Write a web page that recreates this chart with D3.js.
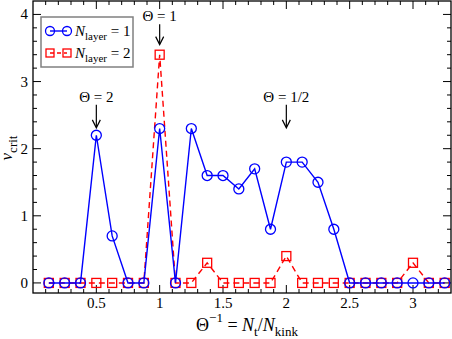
<!DOCTYPE html>
<html>
<head>
<meta charset="utf-8">
<script src="https://cdn.jsdelivr.net/npm/d3@7"></script>
<style>
  body { margin: 0; background: #fff; }
  svg { display: block; font-family: "Liberation Serif", "Times New Roman", serif; }
</style>
</head>
<body>
<svg width="452" height="339"></svg>
<script>
// x positions (Theta^-1)
var xs = [0.125, 0.25, 0.375, 0.5, 0.625, 0.75, 0.875, 1.0, 1.125, 1.25, 1.375, 1.5, 1.625,
          1.75, 1.875, 2.0, 2.125, 2.25, 2.375, 2.5, 2.625, 2.75, 2.875, 3.0, 3.125, 3.25];
// N_layer = 1
var layer1 = [0, 0, 0, 2.2, 0.7, 0, 0, 2.3, 0, 2.3, 1.6, 1.6, 1.4,
              1.7, 0.8, 1.8, 1.8, 1.5, 0.8, 0, 0, 0, 0, 0, 0, 0];
// N_layer = 2
var layer2 = [0, 0, 0, 0, 0, 0, 0, 3.4, 0, 0, 0.3, 0, 0,
              0, 0, 0.4, 0, 0, 0, 0, 0, 0, 0, 0.3, 0, 0];
var xTicks = [0.5, 1, 1.5, 2, 2.5, 3];
var yTicks = [0, 1, 2, 3, 4];
// annotations: x, label baseline and arrow tip in data units
var notes = [{x: 0.5, ty: 2.7, tip: 2.31, label: "Θ = 2"},
             {x: 1, ty: 3.9, tip: 3.55, label: "Θ = 1"},
             {x: 2, ty: 2.7, tip: 2.31, label: "Θ = 1/2"}];

var svg = d3.select("svg");
var pL = 33, pR = 451, pT = 1, pB = 293;

var x = d3.scaleLinear().domain([0, 3.3]).range([pL, pR]);
var y = d3.scaleLinear().domain([-0.15, 4.2]).range([pB, pT]);

// frame
svg.append("rect")
  .attr("x", pL).attr("y", pT)
  .attr("width", pR - pL).attr("height", pB - pT)
  .attr("fill", "none").attr("stroke", "#000").attr("stroke-width", 1.3);

// ticks, all pointing inward
var xMinor = d3.range(0.1, 3.3, 0.1).map(function(d) { return Math.round(d * 10) / 10; });
var yMinor = d3.range(0, 4.2, 0.2).map(function(d) { return Math.round(d * 10) / 10; });
var tg = svg.append("g").attr("stroke", "#000").attr("stroke-width", 1);
xMinor.forEach(function(v) {
  var big = xTicks.indexOf(v) >= 0;
  var len = big ? 8 : 4;
  tg.append("line").attr("x1", x(v)).attr("x2", x(v)).attr("y1", pB).attr("y2", pB - len);
  tg.append("line").attr("x1", x(v)).attr("x2", x(v)).attr("y1", pT).attr("y2", pT + len);
});
yMinor.forEach(function(v) {
  var big = yTicks.indexOf(v) >= 0;
  var len = big ? 8 : 4;
  tg.append("line").attr("x1", pL).attr("x2", pL + len).attr("y1", y(v)).attr("y2", y(v));
  tg.append("line").attr("x1", pR).attr("x2", pR - len).attr("y1", y(v)).attr("y2", y(v));
});

svg.selectAll(".xt").data(xTicks).enter().append("text")
  .attr("x", function(d) { return x(d); }).attr("y", 308)
  .attr("text-anchor", "middle").attr("font-size", 15)
  .text(function(d) { return d; });
svg.selectAll(".yt").data(yTicks).enter().append("text")
  .attr("x", 28).attr("y", function(d) { return y(d) + 5; })
  .attr("text-anchor", "end").attr("font-size", 15)
  .text(function(d) { return d; });

// axis labels
var xl = svg.append("text").attr("x", 247).attr("y", 331).attr("text-anchor", "middle").attr("font-size", 18);
xl.append("tspan").text("Θ");
xl.append("tspan").attr("dy", -9).attr("font-size", 13).text("−1");
xl.append("tspan").attr("dy", 9).text(" = ");
xl.append("tspan").attr("font-style", "italic").text("N");
xl.append("tspan").attr("dy", 5).attr("font-size", 13).text("t");
xl.append("tspan").attr("dy", -5).text("/");
xl.append("tspan").attr("font-style", "italic").text("N");
xl.append("tspan").attr("dy", 5).attr("font-size", 13).text("kink");

var yl = svg.append("text").attr("transform", "translate(12,148) rotate(-90)")
  .attr("text-anchor", "middle").attr("font-size", 17);
yl.append("tspan").attr("font-style", "italic").text("ν");
yl.append("tspan").attr("dy", 5).attr("font-size", 13).text("crit");

// data
var d1 = xs.map(function(v, i) { return [v, layer1[i]]; });
var d2 = xs.map(function(v, i) { return [v, layer2[i]]; });
var line = d3.line().x(function(d) { return x(d[0]); }).y(function(d) { return y(d[1]); });

svg.append("path").datum(d2).attr("d", line)
  .attr("fill", "none").attr("stroke", "#ff0000").attr("stroke-width", 1.4)
  .attr("stroke-dasharray", "6,4");
svg.selectAll(".sq").data(d2).enter().append("rect")
  .attr("x", function(d) { return x(d[0]) - 4.5; }).attr("y", function(d) { return y(d[1]) - 4.5; })
  .attr("width", 9).attr("height", 9)
  .attr("fill", "none").attr("stroke", "#ff0000").attr("stroke-width", 1.3);

svg.append("path").datum(d1).attr("d", line)
  .attr("fill", "none").attr("stroke", "#0000ff").attr("stroke-width", 1.4);
svg.selectAll(".ci").data(d1).enter().append("circle")
  .attr("cx", function(d) { return x(d[0]); }).attr("cy", function(d) { return y(d[1]); })
  .attr("r", 5).attr("fill", "none").attr("stroke", "#0000ff").attr("stroke-width", 1.3);

// annotations
notes.forEach(function(n) {
  var cx = x(n.x);
  var ty = y(n.ty), tip = y(n.tip);
  svg.append("text").attr("x", cx).attr("y", ty).attr("text-anchor", "middle")
    .attr("font-size", 15).text(n.label);
  svg.append("line").attr("x1", cx).attr("x2", cx).attr("y1", ty + 3).attr("y2", tip - 1)
    .attr("stroke", "#000").attr("stroke-width", 1.2);
  svg.append("path")
    .attr("d", "M" + (cx - 4) + "," + (tip - 8) + "L" + cx + "," + tip + "L" + (cx + 4) + "," + (tip - 8))
    .attr("fill", "none").attr("stroke", "#000").attr("stroke-width", 1.2);
});

// legend
var lg = svg.append("g");
lg.append("rect").attr("x", 41).attr("y", 17).attr("width", 92).attr("height", 50)
  .attr("fill", "#fff").attr("stroke", "#808080").attr("stroke-width", 1.5);
var legendItems = [{c: "#0000ff", dash: null, sym: "circle", a: "1"}, {c: "#ff0000", dash: "4,3", sym: "rect", a: "2"}];
legendItems.forEach(function(it, i) {
  var ly = 31 + i * 22;
  lg.append("line").attr("x1", 50).attr("x2", 67).attr("y1", ly).attr("y2", ly)
    .attr("stroke", it.c).attr("stroke-width", 1.4).attr("stroke-dasharray", it.dash);
  [50, 67].forEach(function(px) {
    if (it.sym == "circle") {
      lg.append("circle").attr("cx", px).attr("cy", ly).attr("r", 4.5)
        .attr("fill", "none").attr("stroke", it.c).attr("stroke-width", 1.3);
    } else {
      lg.append("rect").attr("x", px - 4).attr("y", ly - 4).attr("width", 8).attr("height", 8)
        .attr("fill", "none").attr("stroke", it.c).attr("stroke-width", 1.3);
    }
  });
  var t = lg.append("text").attr("x", 75).attr("y", ly + 5).attr("font-size", 15);
  t.append("tspan").attr("font-style", "italic").text("N");
  t.append("tspan").attr("dy", 4).attr("font-size", 11).text("layer");
  t.append("tspan").attr("dy", -4).text(" = " + it.a);
});
</script>
</body>
</html>
